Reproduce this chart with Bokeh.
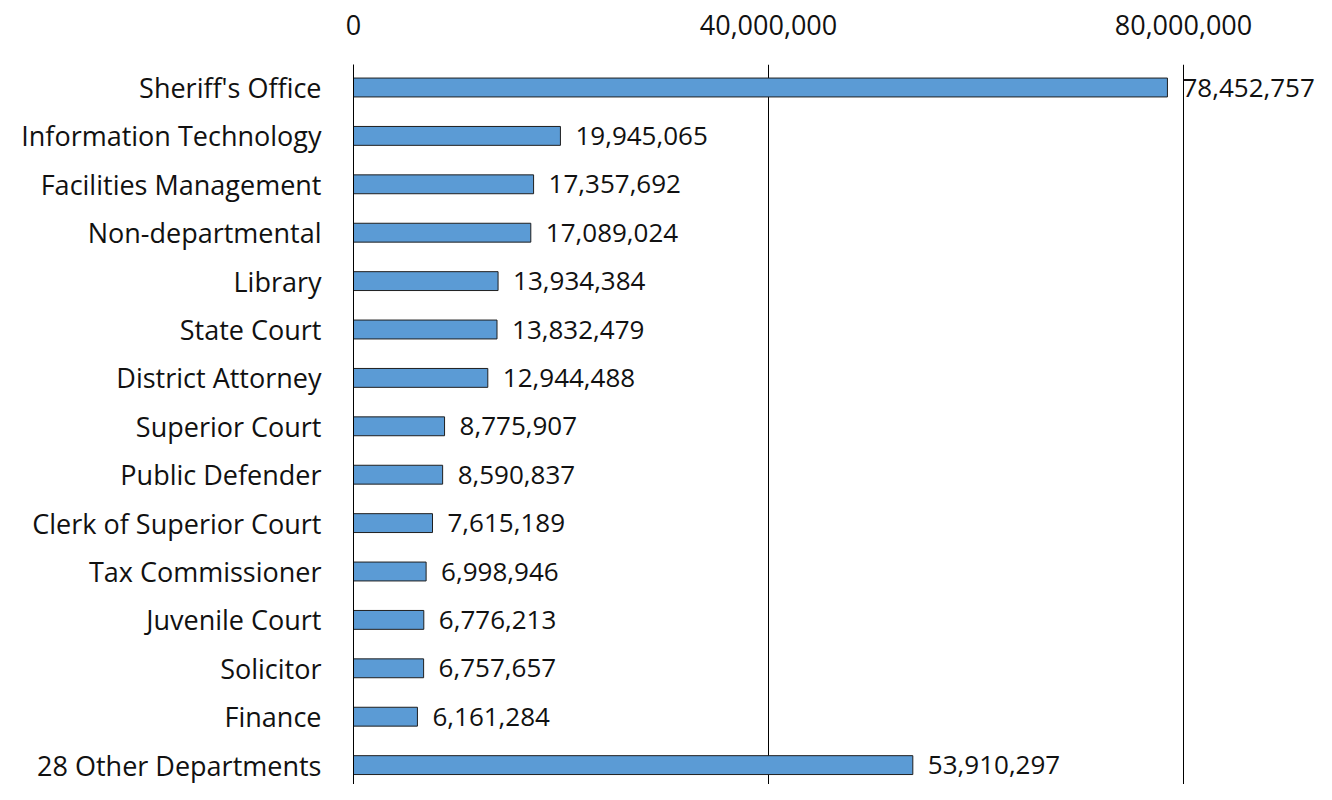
from bokeh.plotting import figure
from bokeh.models import Range1d, FixedTicker, NumeralTickFormatter, ColumnDataSource
from bokeh.core.properties import value
from bokeh.embed import file_html
from bokeh.resources import INLINE

departments = ["Sheriff's Office", "Information Technology", "Facilities Management",
               "Non-departmental", "Library", "State Court", "District Attorney",
               "Superior Court", "Public Defender", "Clerk of Superior Court",
               "Tax Commissioner", "Juvenile Court", "Solicitor", "Finance",
               "28 Other Departments"]
amounts = [78452757, 19945065, 17357692, 17089024, 13934384, 13832479, 12944488,
           8775907, 8590837, 7615189, 6998946, 6776213, 6757657, 6161284, 53910297]
x_ticks = [0, 40000000, 80000000]

FONT = "Open Sans"
TXT = "#111111"
positions = [-i for i in range(len(departments))]
labels = [f"{a:,}" for a in amounts]
src = ColumnDataSource(dict(y=positions, x=amounts, lab=labels))

W, H = 1316, 784
LEFT, TOP = 353, 64
ROW = 48.4
top_val = 23 / ROW

p = figure(width=W, height=H, output_backend="svg", toolbar_location=None,
           x_range=Range1d(0, 80000000 * (W - LEFT) / 830),
           y_range=Range1d(top_val - (H - TOP) / ROW, top_val),
           x_axis_location="above",
           min_border_left=LEFT, min_border_right=0, min_border_top=TOP, min_border_bottom=0)
p.outline_line_color = None
p.background_fill_color = "white"
p.border_fill_color = "white"

p.hbar(y="y", right="x", left=0, height=0.39, source=src,
       fill_color="#5B9BD5", line_color="#1f1f1f", line_width=1)
p.text(x="x", y="y", text="lab", source=src, x_offset=15,
       text_align="left", text_baseline="middle",
       text_font=value(FONT), text_font_size="26px", text_color=TXT)

xa = p.xaxis[0]
xa.ticker = FixedTicker(ticks=x_ticks)
xa.formatter = NumeralTickFormatter(format="0,0")
xa.axis_line_color = None
xa.major_tick_line_color = None
xa.minor_tick_line_color = None
xa.major_label_text_font = FONT
xa.major_label_text_font_size = "27px"
xa.major_label_text_color = TXT
xa.major_label_standoff = 24

ya = p.yaxis[0]
ya.ticker = FixedTicker(ticks=positions)
ya.major_label_overrides = {pos: d for pos, d in zip(positions, departments)}
ya.axis_line_color = "#000000"
ya.axis_line_width = 1
ya.major_tick_line_color = None
ya.minor_tick_line_color = None
ya.major_label_text_font = FONT
ya.major_label_text_font_size = "27px"
ya.major_label_text_color = TXT
ya.major_label_standoff = 26

p.xgrid.ticker = FixedTicker(ticks=x_ticks)
p.xgrid.grid_line_color = "#000000"
p.xgrid.grid_line_width = 1
p.ygrid.grid_line_color = None

open("out.html", "w").write(file_html(p, INLINE))
